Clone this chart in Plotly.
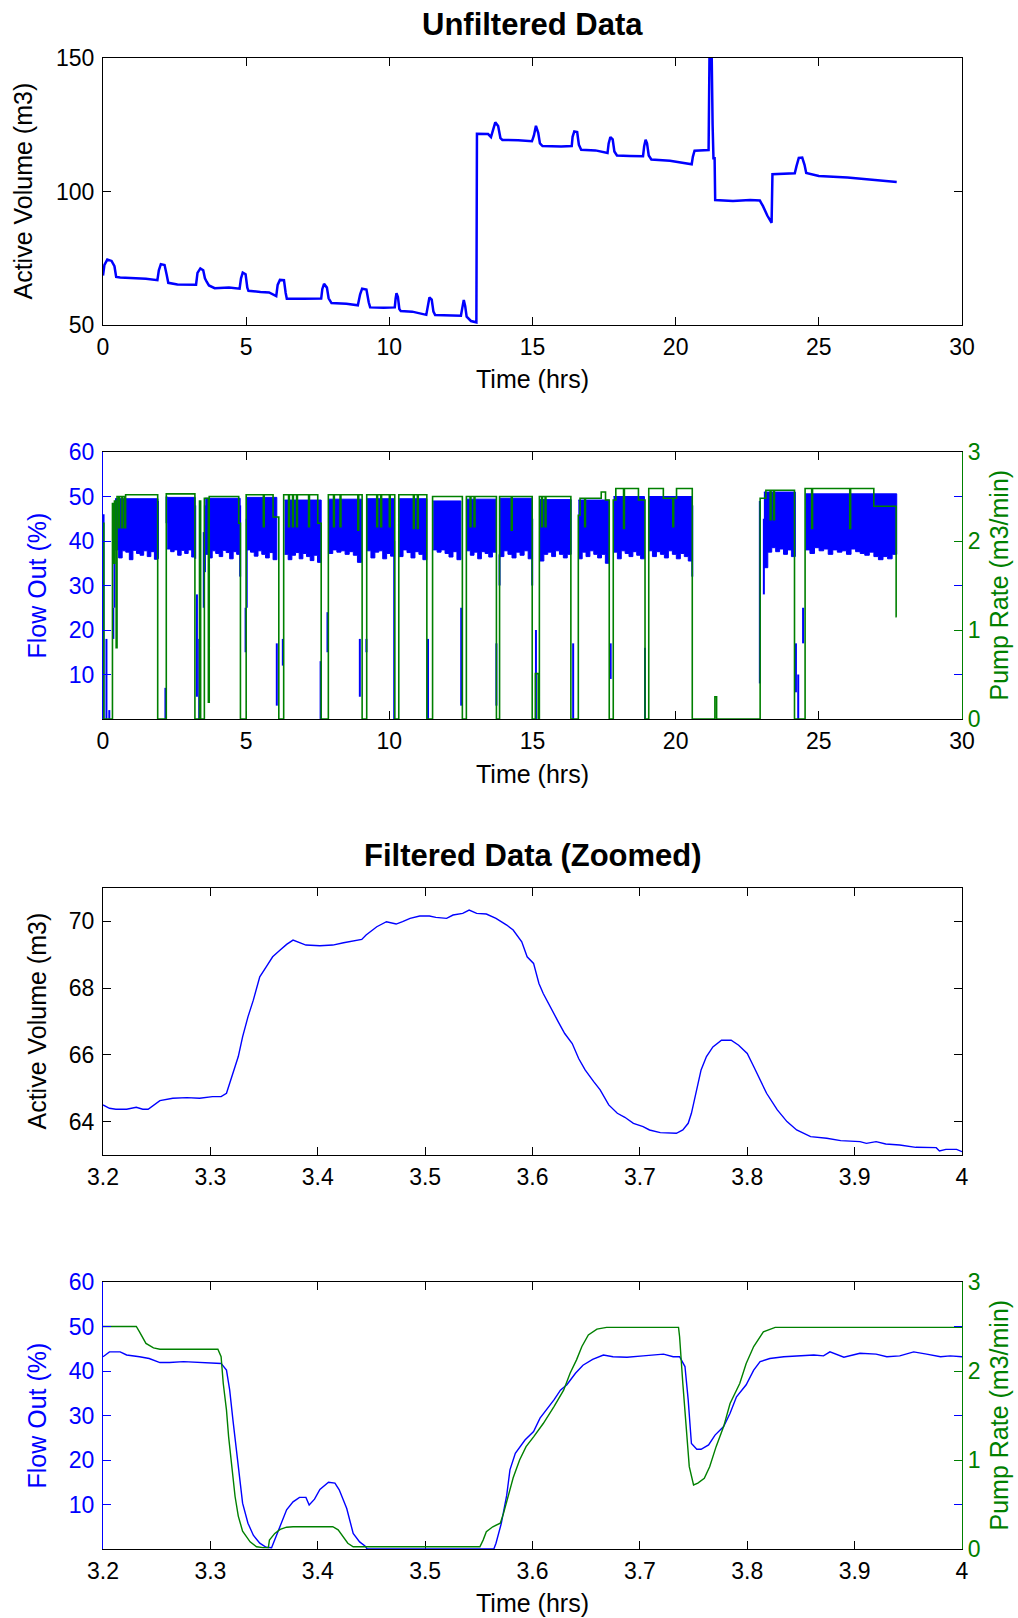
import numpy as np
import plotly.graph_objects as go

W, H = 1018, 1618
BLUE = "#0000FF"
GREEN = "#008000"
FONT = "Liberation Sans, Arial, Helvetica, sans-serif"

# ---------------- Panel 1: unfiltered active volume (hrs, m3) ----------------
volume_unfiltered = [
    (0.00, 68.5), (0.05, 72.5), (0.15, 74.5), (0.30, 74.0), (0.40, 72.0), (0.46, 68.0), (0.60, 67.8),
    (1.00, 67.6), (1.50, 67.3), (1.90, 66.8),
    (1.95, 70.5), (2.02, 72.8), (2.15, 72.5), (2.22, 69.0), (2.28, 65.8), (2.60, 65.2), (3.00, 65.0), (3.25, 65.1),
    (3.30, 69.5), (3.40, 71.2), (3.50, 70.5), (3.56, 67.5), (3.62, 66.2), (3.70, 64.8), (3.90, 63.8), (4.40, 64.0), (4.77, 63.6),
    (4.82, 67.5), (4.88, 69.6), (4.98, 69.0), (5.04, 64.0), (5.08, 62.8), (5.50, 62.4), (5.80, 62.2), (6.05, 60.8),
    (6.10, 65.0), (6.18, 66.9), (6.32, 66.8), (6.38, 62.0), (6.42, 59.8), (7.00, 59.8), (7.62, 59.9),
    (7.66, 63.5), (7.72, 65.4), (7.82, 64.0), (7.88, 60.0), (7.98, 58.2), (8.50, 58.0), (8.90, 57.4),
    (8.98, 61.5), (9.05, 63.6), (9.20, 63.3), (9.28, 58.5), (9.33, 56.6), (9.80, 56.5), (10.19, 56.6),
    (10.22, 60.0), (10.25, 61.9), (10.30, 60.5), (10.35, 56.0), (10.40, 55.2), (10.80, 55.0), (11.29, 53.8),
    (11.34, 57.5), (11.40, 60.3), (11.48, 59.5), (11.54, 55.0), (11.60, 53.7), (12.00, 53.5), (12.50, 53.5),
    (12.55, 56.5), (12.60, 59.4), (12.65, 57.0), (12.70, 53.1), (12.85, 51.5), (13.04, 51.0),
    (13.06, 121.6), (13.45, 121.5), (13.55, 120.4), (13.62, 123.0), (13.70, 125.9), (13.80, 124.5), (13.88, 120.0),
    (13.95, 119.3), (14.50, 119.2), (14.98, 118.8),
    (15.05, 121.0), (15.12, 124.6), (15.20, 122.0), (15.26, 118.0), (15.35, 117.0), (16.00, 116.9), (16.37, 117.0),
    (16.40, 120.5), (16.46, 122.5), (16.56, 122.3), (16.62, 117.5), (16.70, 115.6), (17.20, 115.4), (17.62, 114.4),
    (17.66, 118.0), (17.72, 120.4), (17.80, 119.5), (17.86, 115.0), (17.95, 113.5), (18.40, 113.3), (18.86, 113.2),
    (18.90, 117.0), (18.95, 119.4), (19.00, 118.0), (19.06, 113.5), (19.15, 112.0), (19.80, 111.5), (20.56, 110.2),
    (20.60, 113.0), (20.66, 115.3), (21.15, 115.5),
    (21.18, 149.5), (21.26, 149.5), (21.29, 125.0), (21.32, 112.5), (21.36, 112.5), (21.38, 96.8),
    (22.00, 96.4), (22.60, 96.8), (22.94, 96.6),
    (23.05, 94.5), (23.20, 91.0), (23.35, 88.3),
    (23.38, 106.5), (23.80, 106.6), (24.16, 106.8),
    (24.22, 109.5), (24.30, 112.6), (24.42, 112.7), (24.50, 110.0), (24.56, 106.9),
    (25.00, 105.8), (26.00, 105.2), (27.00, 104.3), (27.72, 103.6),
]

# ---------------- Panel 2: unfiltered flow out / pump rate ----------------
pump_unfiltered = [  # (hrs, m3/min), stepwise
    (0.00, 2.20), (0.03, 0.00),
    (0.33, 2.42), (0.37, 1.75), (0.40, 2.45), (0.46, 0.80), (0.49, 2.50), (0.55, 2.15), (0.58, 2.50),
    (0.66, 2.15), (0.69, 2.50), (0.76, 2.15), (0.79, 2.52), (1.91, 0.00),
    (2.21, 2.53), (3.21, 0.00),
    (3.37, 2.45), (3.41, 0.00), (3.54, 2.48), (3.68, 0.19), (3.71, 2.50), (4.74, 2.20), (4.80, 0.00),
    (5.00, 2.52), (5.60, 2.16), (5.63, 2.52), (5.94, 2.27), (6.14, 0.00),
    (6.31, 2.52), (6.48, 2.16), (6.51, 2.52), (6.62, 2.16), (6.65, 2.52), (6.76, 2.16), (6.79, 2.52),
    (7.18, 2.16), (7.21, 2.52), (7.50, 2.20), (7.62, 0.00),
    (7.87, 2.52), (8.05, 2.16), (8.08, 2.52), (8.28, 2.16), (8.31, 2.52), (8.90, 2.12), (8.93, 2.52), (9.05, 0.00),
    (9.21, 2.52), (9.56, 2.16), (9.59, 2.52), (9.70, 2.16), (9.73, 2.52), (10.00, 2.16), (10.03, 2.52), (10.19, 0.00),
    (10.33, 2.52), (10.84, 2.14), (10.87, 2.52), (10.98, 2.14), (11.01, 2.52), (11.31, 0.00),
    (11.51, 2.50), (12.55, 0.00),
    (12.69, 2.50), (12.82, 2.16), (12.85, 2.50), (12.96, 2.16), (12.99, 2.50), (13.74, 0.00),
    (13.85, 2.50), (14.26, 2.12), (14.29, 2.50), (14.99, 0.00), (15.10, 0.51), (15.20, 0.00),
    (15.24, 2.50), (15.32, 2.16), (15.35, 2.50), (15.44, 2.16), (15.47, 2.50), (16.34, 0.00),
    (16.60, 2.29), (16.66, 2.48), (16.82, 2.16), (16.85, 2.48), (17.40, 2.55), (17.55, 2.46), (17.68, 0.00),
    (17.82, 2.46), (17.91, 2.59), (18.18, 2.14), (18.21, 2.59), (18.70, 2.46), (18.93, 0.00),
    (19.06, 2.59), (19.57, 2.48), (19.90, 2.16), (19.93, 2.48), (20.03, 2.59), (20.58, 0.00),
    (21.37, 0.25), (21.43, 0.00),
    (22.95, 2.48), (23.15, 2.57), (23.30, 2.24), (23.33, 2.57), (23.42, 2.24), (23.45, 2.57), (24.15, 0.00),
    (24.52, 2.59), (24.75, 2.14), (24.78, 2.59), (26.08, 2.14), (26.11, 2.59), (26.92, 2.39),
    (27.70, 1.15), (27.72, 1.15),
]

# noisy flow-out band while pumping: start, end, upper level, lower-edge readings (%)
band_start = [0.42, 2.24, 3.57, 5.02, 6.34, 7.88, 9.22, 10.34, 11.53, 12.70, 13.86, 15.26, 16.60, 17.83, 19.05, 23.08, 24.53]
band_end = [1.92, 3.22, 4.79, 6.07, 7.62, 9.03, 10.18, 11.31, 12.50, 13.73, 14.99, 16.35, 17.68, 18.91, 20.58, 24.18, 27.72]
band_top = [49.5, 49.8, 49.6, 49.8, 49.2, 49.4, 49.5, 49.5, 49.0, 49.4, 49.6, 49.3, 49.2, 50.0, 50.0, 51.0, 50.6]
band_bottom = [
    [38.0, 36.2, 37.8, 37.5, 35.8, 37.9, 37.2, 36.8, 37.8, 36.5, 37.6, 35.9],
    [38.2, 37.6, 38.0, 36.8, 37.9, 37.2, 38.0, 36.4],
    [37.0, 36.2, 37.8, 37.2, 36.5, 37.9, 37.4, 36.0, 37.6, 37.0],
    [38.0, 37.5, 36.6, 37.8, 37.0, 36.2, 37.4, 35.8],
    [37.0, 35.8, 36.8, 37.4, 36.0, 37.2, 36.5, 35.6, 36.8, 35.2],
    [37.2, 38.0, 37.5, 37.8, 37.0, 37.6, 36.8, 35.2],
    [37.8, 36.2, 37.5, 37.8, 36.0, 37.2, 36.6],
    [36.5, 38.0, 37.4, 36.2, 37.6, 37.0, 35.8],
    [38.0, 37.5, 38.0, 37.2, 36.4, 37.6, 35.8],
    [37.8, 36.8, 37.5, 36.0, 37.6, 37.2, 36.4, 37.5],
    [36.5, 37.8, 37.0, 36.2, 37.5, 36.8, 37.8, 36.0],
    [35.5, 37.0, 37.5, 36.5, 37.8, 37.0, 36.2, 37.0],
    [36.0, 37.5, 36.5, 37.8, 37.0, 36.2, 37.0, 35.0],
    [37.5, 36.0, 37.8, 37.2, 36.5, 37.6, 36.8, 36.0],
    [37.8, 36.5, 37.6, 37.0, 36.2, 37.8, 37.0, 36.0, 37.2, 36.5, 35.5],
    [34.0, 37.5, 38.5, 37.6, 38.2, 37.0, 38.0, 36.5],
    [38.0, 37.2, 38.5, 37.8, 38.2, 37.0, 38.0, 37.5, 37.8, 37.0, 38.2, 37.6, 37.2, 36.8, 37.5, 36.5,
     35.8, 36.5, 36.0, 37.0],
]

# isolated flow-out transients: (hrs, low %, high %)
flow_transients = [
    (0.02, 0, 46), (0.12, 0, 18), (0.22, 0, 2), (0.36, 18, 25), (0.40, 25, 48), (1.92, 36, 49),
    (2.18, 0, 7), (2.22, 44, 50), (3.22, 36, 48), (3.28, 5, 28), (3.36, 0, 18), (3.52, 25, 42),
    (3.56, 33, 48), (4.79, 32, 48), (4.98, 15, 25), (5.02, 25, 45), (6.07, 3, 17), (6.28, 12, 18),
    (7.60, 0, 13), (7.84, 15, 24), (8.97, 5, 18), (9.20, 15, 18), (10.17, 0, 40), (11.35, 0, 18),
    (12.51, 3, 25), (13.74, 3, 17), (13.85, 30, 37), (14.99, 30, 45), (15.12, 0, 20), (16.42, 0, 17),
    (17.73, 9, 17), (18.93, 0, 16), (20.58, 32, 48), (22.94, 8, 49), (23.08, 28, 45), (24.20, 6, 17),
    (24.28, 0, 10), (24.45, 17, 25),
]

# ---------------- Panel 3: filtered active volume, zoomed (hrs, m3) ----------------
volume_filtered = [
    (3.200, 64.50), (3.206, 64.40), (3.212, 64.37), (3.222, 64.37), (3.231, 64.43), (3.237, 64.37),
    (3.242, 64.37), (3.247, 64.50), (3.253, 64.63), (3.265, 64.70), (3.278, 64.72), (3.290, 64.70),
    (3.302, 64.75), (3.310, 64.75), (3.315, 64.85), (3.318, 65.15), (3.321, 65.45), (3.326, 65.95),
    (3.330, 66.54), (3.335, 67.14), (3.340, 67.64), (3.346, 68.34), (3.352, 68.64), (3.358, 68.94),
    (3.365, 69.14), (3.371, 69.31), (3.377, 69.44), (3.383, 69.36), (3.389, 69.29), (3.402, 69.27),
    (3.414, 69.29), (3.424, 69.36), (3.433, 69.41), (3.441, 69.46), (3.445, 69.59), (3.455, 69.84),
    (3.464, 69.99), (3.473, 69.92), (3.479, 69.99), (3.486, 70.09), (3.495, 70.16), (3.504, 70.16),
    (3.510, 70.12), (3.520, 70.09), (3.526, 70.19), (3.535, 70.24), (3.541, 70.34), (3.548, 70.24),
    (3.557, 70.22), (3.566, 70.09), (3.576, 69.89), (3.582, 69.74), (3.590, 69.39), (3.595, 68.94),
    (3.601, 68.74), (3.606, 68.14), (3.610, 67.84), (3.618, 67.34), (3.624, 66.99), (3.630, 66.64),
    (3.637, 66.34), (3.643, 65.89), (3.649, 65.55), (3.657, 65.20), (3.663, 64.95), (3.671, 64.50),
    (3.679, 64.25), (3.686, 64.13), (3.694, 63.95), (3.703, 63.85), (3.709, 63.75), (3.719, 63.67),
    (3.734, 63.65), (3.740, 63.75), (3.745, 63.95), (3.748, 64.25), (3.753, 64.95), (3.757, 65.55),
    (3.762, 65.95), (3.768, 66.24), (3.776, 66.44), (3.785, 66.44), (3.792, 66.29), (3.800, 66.04),
    (3.806, 65.65), (3.812, 65.25), (3.818, 64.85), (3.828, 64.35), (3.837, 64.00), (3.846, 63.75),
    (3.859, 63.55), (3.874, 63.50), (3.887, 63.43), (3.905, 63.40), (3.911, 63.35), (3.920, 63.40),
    (3.929, 63.33), (3.942, 63.30), (3.957, 63.23), (3.976, 63.22), (3.979, 63.12), (3.985, 63.17),
    (3.995, 63.17), (4.000, 63.10),
]

# ---------------- Panel 4: filtered flow out (%) and pump rate (m3/min), zoomed ----------------
flow_filtered = [
    (3.200, 43.2), (3.206, 44.3), (3.216, 44.3), (3.222, 43.6), (3.234, 43.2), (3.243, 42.8), (3.253, 41.9),
    (3.262, 41.9), (3.275, 42.1), (3.290, 41.9), (3.302, 41.9), (3.310, 41.7), (3.315, 40.2), (3.318, 35.7),
    (3.321, 29.0), (3.324, 23.0), (3.327, 16.3), (3.330, 10.3), (3.335, 5.8), (3.340, 3.1), (3.346, 1.3),
    (3.352, 0.4), (3.357, 0.3), (3.361, 2.8), (3.366, 6.1), (3.371, 8.8), (3.377, 10.6), (3.383, 11.6),
    (3.389, 11.6), (3.392, 9.9), (3.397, 11.2), (3.402, 13.4), (3.410, 15.0), (3.416, 14.8), (3.420, 13.3),
    (3.427, 9.1), (3.433, 3.5), (3.439, 1.6), (3.444, 0.7), (3.446, 0.0), (3.564, 0.0), (3.566, 1.3),
    (3.571, 5.8), (3.576, 12.1), (3.579, 17.8), (3.584, 21.5), (3.593, 24.5), (3.601, 26.4), (3.607, 29.4),
    (3.613, 31.2), (3.620, 33.5), (3.626, 35.7), (3.632, 36.9), (3.640, 39.5), (3.647, 41.3), (3.656, 42.6),
    (3.666, 43.6), (3.675, 43.2), (3.688, 43.1), (3.703, 43.4), (3.722, 43.8), (3.731, 43.2), (3.737, 43.2),
    (3.742, 41.0), (3.745, 33.5), (3.748, 23.7), (3.753, 22.4), (3.757, 22.4), (3.764, 23.4), (3.770, 25.6),
    (3.778, 27.5), (3.784, 30.5), (3.790, 34.2), (3.799, 36.9), (3.806, 40.2), (3.812, 42.1), (3.821, 42.8),
    (3.834, 43.2), (3.849, 43.4), (3.862, 43.6), (3.871, 43.4), (3.877, 44.3), (3.890, 43.1), (3.905, 44.0),
    (3.920, 43.8), (3.930, 43.2), (3.942, 43.4), (3.955, 44.3), (3.967, 43.8), (3.980, 43.2), (3.989, 43.4),
    (4.000, 43.2),
]

pump_filtered = [
    (3.200, 2.50), (3.231, 2.50), (3.234, 2.44), (3.240, 2.31), (3.247, 2.26), (3.253, 2.245), (3.307, 2.245),
    (3.310, 2.16), (3.312, 1.86), (3.315, 1.56), (3.317, 1.26), (3.320, 0.89), (3.323, 0.59), (3.326, 0.37),
    (3.330, 0.20), (3.337, 0.08), (3.343, 0.025), (3.349, 0.015), (3.354, 0.015), (3.355, 0.10), (3.360, 0.175),
    (3.365, 0.22), (3.371, 0.245), (3.377, 0.25), (3.414, 0.25), (3.419, 0.215), (3.424, 0.13), (3.428, 0.065),
    (3.433, 0.025), (3.551, 0.025), (3.554, 0.10), (3.557, 0.195), (3.563, 0.25), (3.570, 0.29), (3.573, 0.40),
    (3.577, 0.59), (3.582, 0.80), (3.588, 1.00), (3.594, 1.15), (3.601, 1.26), (3.610, 1.41), (3.620, 1.60),
    (3.629, 1.785), (3.635, 1.975), (3.641, 2.125), (3.646, 2.275), (3.652, 2.405), (3.660, 2.47), (3.669, 2.49),
    (3.736, 2.49), (3.737, 2.385), (3.740, 1.86), (3.743, 1.335), (3.746, 0.925), (3.750, 0.72), (3.754, 0.74),
    (3.760, 0.795), (3.765, 0.925), (3.771, 1.15), (3.778, 1.375), (3.784, 1.635), (3.793, 1.86), (3.799, 2.085),
    (3.806, 2.275), (3.815, 2.44), (3.826, 2.49), (4.000, 2.49),
]

# ticks
hour_ticks = [0, 5, 10, 15, 20, 25, 30]
zoom_ticks = [3.2, 3.3, 3.4, 3.5, 3.6, 3.7, 3.8, 3.9, 4.0]
zoom_tick_text = ["3.2", "3.3", "3.4", "3.5", "3.6", "3.7", "3.8", "3.9", "4"]
flow_ticks = [10, 20, 30, 40, 50, 60]
pump_ticks = [0, 1, 2, 3]

# ---------------- build figure ----------------
fig = go.Figure()

t, v = zip(*volume_unfiltered)
fig.add_trace(go.Scatter(x=t, y=v, mode="lines", line=dict(color=BLUE, width=2.5),
                         xaxis="x", yaxis="y"))

bx, by = [], []
for s, e, top, bots in zip(band_start, band_end, band_top, band_bottom):
    edges = np.linspace(s, e, len(bots) + 1)
    xs, ys = [s, e], [top, top]
    for j in range(len(bots) - 1, -1, -1):
        xs += [edges[j + 1], edges[j]]
        ys += [bots[j], bots[j]]
    bx += xs + [None]
    by += ys + [None]
fig.add_trace(go.Scatter(x=bx, y=by, mode="lines", fill="toself", fillcolor=BLUE,
                         line=dict(color=BLUE, width=1), xaxis="x2", yaxis="y2"))

sx, sy = [], []
for tt, lo, hi in flow_transients:
    sx += [tt, tt, None]
    sy += [lo, hi, None]
fig.add_trace(go.Scatter(x=sx, y=sy, mode="lines", line=dict(color=BLUE, width=2),
                         xaxis="x2", yaxis="y2"))

t, v = zip(*pump_unfiltered)
fig.add_trace(go.Scatter(x=t, y=v, mode="lines", line=dict(color=GREEN, width=1.6, shape="hv"),
                         xaxis="x2", yaxis="y3"))

t, v = zip(*volume_filtered)
fig.add_trace(go.Scatter(x=t, y=v, mode="lines", line=dict(color=BLUE, width=1.4),
                         xaxis="x3", yaxis="y4"))

t, v = zip(*flow_filtered)
fig.add_trace(go.Scatter(x=t, y=v, mode="lines", line=dict(color=BLUE, width=1.4),
                         xaxis="x4", yaxis="y5"))
t, v = zip(*pump_filtered)
fig.add_trace(go.Scatter(x=t, y=v, mode="lines", line=dict(color=GREEN, width=1.4),
                         xaxis="x4", yaxis="y6"))

xdom = [103 / W, 962 / W]


def ydom(top, bot):
    return [1 - bot / H, 1 - top / H]


def axis(color="black", standoff=3, **kw):
    d = dict(showline=True, linecolor=color, linewidth=1.3, mirror="ticks", ticks="inside",
             ticklen=8, tickwidth=1.2, tickcolor=color, showgrid=False, zeroline=False,
             automargin=False,
             tickfont=dict(family=FONT, size=23, color=color),
             ticklabelstandoff=standoff)
    d.update(kw)
    return d


fig.update_layout(
    template="none",
    width=W, height=H, margin=dict(l=0, r=0, t=0, b=0, pad=0), autosize=False,
    paper_bgcolor="white", plot_bgcolor="white", showlegend=False,
    xaxis=axis(standoff=1, domain=xdom, anchor="y", range=[0, 30], tickvals=hour_ticks, layer="below traces"),
    yaxis=axis(domain=ydom(58, 325), anchor="x", range=[50, 150], tickvals=[50, 100, 150]),
    xaxis2=axis(standoff=1, domain=xdom, anchor="y2", range=[0, 30], tickvals=hour_ticks, layer="below traces"),
    yaxis2=axis(color=BLUE, domain=ydom(452, 719), anchor="x2", range=[0, 60], tickvals=flow_ticks),
    yaxis3=axis(color=GREEN, standoff=0, overlaying="y2", side="right", anchor="x2", range=[0, 3],
                tickvals=pump_ticks, mirror=False),
    xaxis3=axis(standoff=1, domain=xdom, anchor="y4", range=[3.2, 4.0], tickvals=zoom_ticks,
                ticktext=zoom_tick_text),
    yaxis4=axis(domain=ydom(888, 1155), anchor="x3", range=[63, 71], tickvals=[64, 66, 68, 70]),
    xaxis4=axis(standoff=1, domain=xdom, anchor="y5", range=[3.2, 4.0], tickvals=zoom_ticks,
                ticktext=zoom_tick_text, layer="below traces"),
    yaxis5=axis(color=BLUE, domain=ydom(1282, 1549), anchor="x4", range=[0, 60], tickvals=flow_ticks),
    yaxis6=axis(color=GREEN, standoff=0, overlaying="y5", side="right", anchor="x4", range=[0, 3],
                tickvals=pump_ticks, mirror=False),
)
fig.update_xaxes(tickfont_color="black")

xc = (103 + 962) / 2


def ann(text, x_px, y_px, size=25, color="black", angle=0):
    fig.add_annotation(text=text, x=x_px / W, y=1 - y_px / H, xref="paper", yref="paper",
                       showarrow=False, textangle=angle, xanchor="center", yanchor="middle",
                       font=dict(family=FONT, size=size, color=color))


ann("<b>Unfiltered Data</b>", xc, 24, size=31)
ann("<b>Filtered Data (Zoomed)</b>", xc, 855, size=31)
ann("Time (hrs)", xc, 379)
ann("Time (hrs)", xc, 774)
ann("Time (hrs)", xc, 1603)
ann("Active Volume (m3)", 22, 191.5, angle=-90)
ann("Flow Out (%)", 36, 585.5, color=BLUE, angle=-90)
ann("Pump Rate (m3/min)", 998, 585.5, color=GREEN, angle=-90)
ann("Active Volume (m3)", 36, 1021.5, angle=-90)
ann("Flow Out (%)", 36, 1415.5, color=BLUE, angle=-90)
ann("Pump Rate (m3/min)", 998, 1415.5, color=GREEN, angle=-90)

fig.write_html("out.html", config={"displayModeBar": False},
               post_script="document.body.style.margin='0';document.body.style.overflow='hidden';")
